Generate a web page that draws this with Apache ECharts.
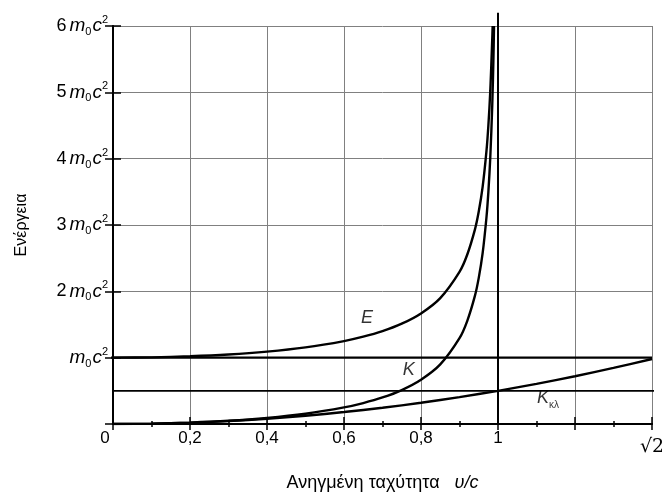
<!DOCTYPE html>
<html><head><meta charset="utf-8">
<script src="https://cdn.jsdelivr.net/npm/echarts@6/dist/echarts.min.js"></script>
<style>html,body{margin:0;padding:0;background:#fff}#c{width:662px;height:494px}</style>
</head><body><div id="c"></div>
<script>
// Data (energy in units of m0c^2, speed as v/c)
const vE = [0,0.1,0.2,0.3,0.4,0.5,0.6,0.65,0.7,0.75,0.8,0.85,0.9,0.92,0.94,0.95,0.96,0.97,0.975,0.98,0.985,0.9861];
const energyE = [1,1.005,1.021,1.048,1.091,1.155,1.25,1.316,1.4,1.512,1.667,1.898,2.294,2.552,2.931,3.203,3.571,4.113,4.5,5.025,5.795,6.0];
const vK = [0,0.1,0.2,0.3,0.4,0.5,0.6,0.65,0.7,0.75,0.8,0.85,0.9,0.92,0.94,0.95,0.96,0.97,0.975,0.98,0.985,0.988,0.9897];
const energyK = [0,0.005,0.021,0.048,0.091,0.155,0.25,0.316,0.4,0.512,0.667,0.898,1.294,1.552,1.931,2.203,2.571,3.113,3.5,4.025,4.795,5.474,6.0];
const vKcl = [0,0.1,0.2,0.3,0.4,0.5,0.6,0.7,0.8,0.9,1.0,1.1,1.2,1.3,1.4];
const energyKcl = [0,0.005,0.02,0.045,0.08,0.125,0.18,0.245,0.32,0.405,0.5,0.605,0.72,0.845,0.98];
const restLevelX = [-0.026, 1.4];
const restLevelY = [1, 1];
const halfLevelX = [-0.034, 1.425];
const halfLevelY = [0.5, 0.5];
const lightLineX = [1, 1];
const lightLineY = [0, 6.2];
const xTickValues = [0,0.2,0.4,0.6,0.8,1,1.2,1.4];
const xTickLabels = ['0','0,2','0,4','0,6','0,8','1','','\u221A2'];
const yTickValues = [0,1,2,3,4,5,6];
const yTickCoefs = [null,'','2','3','4','5','6'];
const annoX = [0.66, 0.768, 1.13];
const annoY = [1.6, 0.81, 0.39];
const annoText = ['E','K','Kκλ'];

const pairs = (xs, ys) => xs.map((x, i) => [x, ys[i]]);
const font = 'Liberation Sans, Arial, sans-serif';

const chart = echarts.init(document.getElementById('c'));
const yRich = {
  n: {fontSize: 18, fontFamily: font, color: '#000', padding: [0, 3, 0, 0]},
  m: {fontSize: 19, fontFamily: font, fontStyle: 'italic', color: '#000'},
  s: {fontSize: 11, fontFamily: font, color: '#000', padding: [12, 1, 0, 0]},
  c: {fontSize: 19, fontFamily: font, fontStyle: 'italic', color: '#000'},
  p: {fontSize: 11, fontFamily: font, color: '#000', padding: [0, 0, 12, 0]}
};
const lineStyleBlack = w => ({color: '#000', width: w});

chart.setOption({
  animation: false,
  backgroundColor: '#fff',
  grid: {left: 113, right: 10, top: 26, bottom: 70, outerBoundsMode: 'none', containLabel: false},
  xAxis: [{
    type: 'value', min: 0, max: 1.4, interval: 0.2,
    name: '{t|Ανηγμένη ταχύτητα   }{i|υ/c}',
    nameLocation: 'middle', nameGap: 50,
    nameTextStyle: {rich: {
      t: {fontSize: 18, fontFamily: font, color: '#000'},
      i: {fontSize: 18, fontFamily: font, fontStyle: 'italic', color: '#000'}
    }},
    axisLine: {show: true, onZero: false, lineStyle: {color: '#000', width: 2}},
    axisTick: {show: true, inside: false, length: 6, lineStyle: {color: '#000', width: 1.5}},
    minorTick: {show: true, splitNumber: 2, length: 3, lineStyle: {color: '#000', width: 1.5}},
    splitLine: {show: true, lineStyle: {color: '#808080', width: 1}},
    axisLabel: {
      showMinLabel: true, showMaxLabel: true, margin: 6,
      formatter: v => {
        const i = xTickValues.findIndex(t => Math.abs(t - v) < 1e-6);
        const s = i >= 0 ? xTickLabels[i] : '';
        if (i === 0) return '{z|' + s + '}';
        if (i === xTickValues.length - 1) return '{r|' + s + '}';
        return s;
      },
      fontSize: 17, fontFamily: font, color: '#000',
      rich: {
        z: {fontSize: 17, fontFamily: font, color: '#000', padding: [0, 16, 0, 0]},
        r: {fontSize: 19, fontFamily: 'DejaVu Serif', color: '#000', padding: [8, 0, 0, 0]}
      }
    }
  }, {
    type: 'value', min: 0, max: 1.4, interval: 0.2, position: 'top',
    axisLine: {show: true, lineStyle: {color: '#000', width: 2}},
    axisTick: {show: true, inside: false, length: 7, lineStyle: {color: '#000', width: 1.5}},
    minorTick: {show: true, splitNumber: 2, length: 3, lineStyle: {color: '#000', width: 1.5}},
    splitLine: {show: false},
    axisLabel: {show: false}
  }],
  yAxis: [{
    type: 'value', min: 0, max: 6, interval: 1,
    name: 'Ενέργεια', nameLocation: 'middle', nameGap: 83, nameRotate: 90,
    nameTextStyle: {fontSize: 16, fontFamily: font, color: '#000'},
    axisLine: {show: true, onZero: false, lineStyle: {color: '#000', width: 2}},
    axisTick: {show: true, inside: false, length: 8, lineStyle: {color: '#000', width: 1.5}},
    splitLine: {show: true, lineStyle: {color: '#808080', width: 1}},
    axisLabel: {
      margin: 5,
      formatter: v => {
        const i = yTickValues.indexOf(Math.round(v));
        const coef = yTickCoefs[i];
        if (coef === null || coef === undefined) return '';
        return (coef ? '{n|' + coef + '}' : '') + '{m|m}{s|0}{c|c}{p|2}';
      },
      rich: yRich
    }
  }, {
    type: 'value', min: 0, max: 6, interval: 1, position: 'right',
    axisLine: {show: true, lineStyle: {color: '#000', width: 1.5}},
    axisTick: {show: true, inside: false, length: 8, lineStyle: {color: '#000', width: 1.5}},
    splitLine: {show: false},
    axisLabel: {show: false}
  }],
  series: [
    {type: 'line', data: pairs(lightLineX, lightLineY), symbol: 'none', clip: false, silent: true,
     lineStyle: lineStyleBlack(2), z: 3},
    {type: 'line', data: pairs(restLevelX, restLevelY), symbol: 'none', clip: false, silent: true,
     lineStyle: lineStyleBlack(2.2), z: 3},
    {type: 'line', data: pairs(halfLevelX, halfLevelY), symbol: 'none', clip: false, silent: true,
     lineStyle: lineStyleBlack(1.6), z: 3},
    {type: 'line', name: 'E', data: pairs(vE, energyE), symbol: 'none', smooth: 0.3,
     lineStyle: lineStyleBlack(2.4), z: 4},
    {type: 'line', name: 'K', data: pairs(vK, energyK), symbol: 'none', smooth: 0.3,
     lineStyle: lineStyleBlack(2.4), z: 4},
    {type: 'line', name: 'Kκλ', data: pairs(vKcl, energyKcl), symbol: 'none', smooth: 0.3,
     lineStyle: lineStyleBlack(2.4), z: 4},
    {type: 'scatter', data: pairs(annoX, annoY), symbolSize: 0, silent: true, z: 5,
     label: {
       show: true, position: 'inside',
       formatter: p => {
         const t = annoText[p.dataIndex];
         return t.length > 1 ? '{k|' + t[0] + '}{sub|' + t.slice(1) + '}' : '{k|' + t + '}';
       },
       rich: {
         k: {fontSize: 18, fontFamily: font, fontStyle: 'italic', color: '#000'},
         sub: {fontSize: 10, fontFamily: font, color: '#000', padding: [14, 0, 0, 0]}
       }
     }}
  ]
});
</script></body></html>
